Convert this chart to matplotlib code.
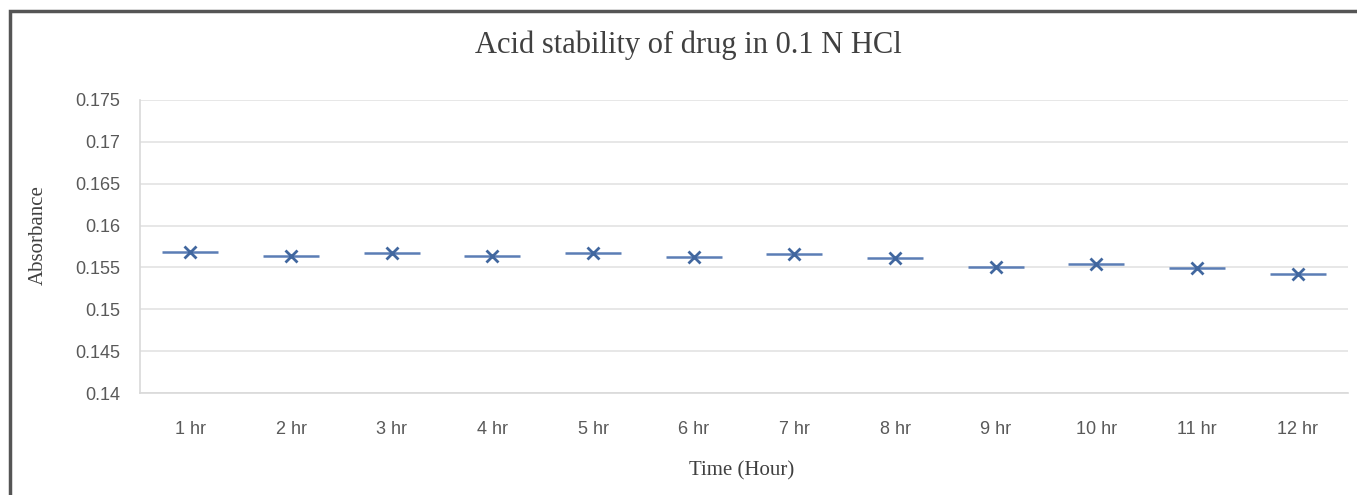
import numpy as np
import matplotlib.pyplot as plt
from matplotlib.patches import Rectangle

hours = ['1 hr', '2 hr', '3 hr', '4 hr', '5 hr', '6 hr',
         '7 hr', '8 hr', '9 hr', '10 hr', '11 hr', '12 hr']
absorbance = [0.1569, 0.1564, 0.1567, 0.1564, 0.1567, 0.1563,
              0.1566, 0.1561, 0.1551, 0.1554, 0.1549, 0.1542]

serif = ['Liberation Serif', 'DejaVu Serif']
sans = ['Liberation Sans Narrow', 'Liberation Sans', 'DejaVu Sans']

fig = plt.figure(figsize=(13.57, 4.95), dpi=100)
ax = fig.add_axes([0.1032, 0.206, 0.8902, 0.592])

x = np.arange(1, len(hours) + 1)
ax.plot(x, absorbance, ls='', marker='_', ms=40, mew=1.8, color='#5b7db5')
ax.plot(x, absorbance, ls='', marker='x', ms=9, mew=2, color='#41679f')

ax.set_xlim(0.5, len(hours) + 0.5)
ax.set_ylim(0.14, 0.175)
ax.set_yticks(np.arange(0.14, 0.1751, 0.005))
ax.set_yticklabels(['0.14', '0.145', '0.15', '0.155', '0.16', '0.165', '0.17', '0.175'])
ax.set_xticks(x)
ax.set_xticklabels(hours)
ax.grid(axis='y', color='#e3e3e3', lw=1.2)
ax.set_axisbelow(True)
for s in ['top', 'right']:
    ax.spines[s].set_visible(False)
for s in ['left', 'bottom']:
    ax.spines[s].set_color('#d9d9d9')
    ax.spines[s].set_linewidth(1.2)
ax.tick_params(length=0, colors='#595959')
ax.tick_params(axis='y', pad=14)
ax.tick_params(axis='x', pad=20)
for lab in ax.get_xticklabels() + ax.get_yticklabels():
    lab.set_family(sans)
    lab.set_fontsize(13)

fig.text(688 / 1357, 1 - 45 / 495, 'Acid stability of drug in 0.1 N HCl',
         family=serif, fontsize=22, color='#404040', ha='center', va='center')
ax.set_xlabel('Time (Hour)', family=serif, fontsize=15, color='#404040')
ax.set_ylabel('Absorbance', family=serif, fontsize=15, color='#404040')
ax.xaxis.set_label_coords(0.498, -0.266)
ax.yaxis.set_label_coords(-0.0844, 0.539)
ax.xaxis.label.set_va('center')
ax.yaxis.label.set_va('center')

fig.patches.append(Rectangle((10 / 1357, -0.1), 1.2, 1.1 - 11 / 495,
                             transform=fig.transFigure, fill=False,
                             ec='#555555', lw=2.5))

fig.savefig('out.png')
